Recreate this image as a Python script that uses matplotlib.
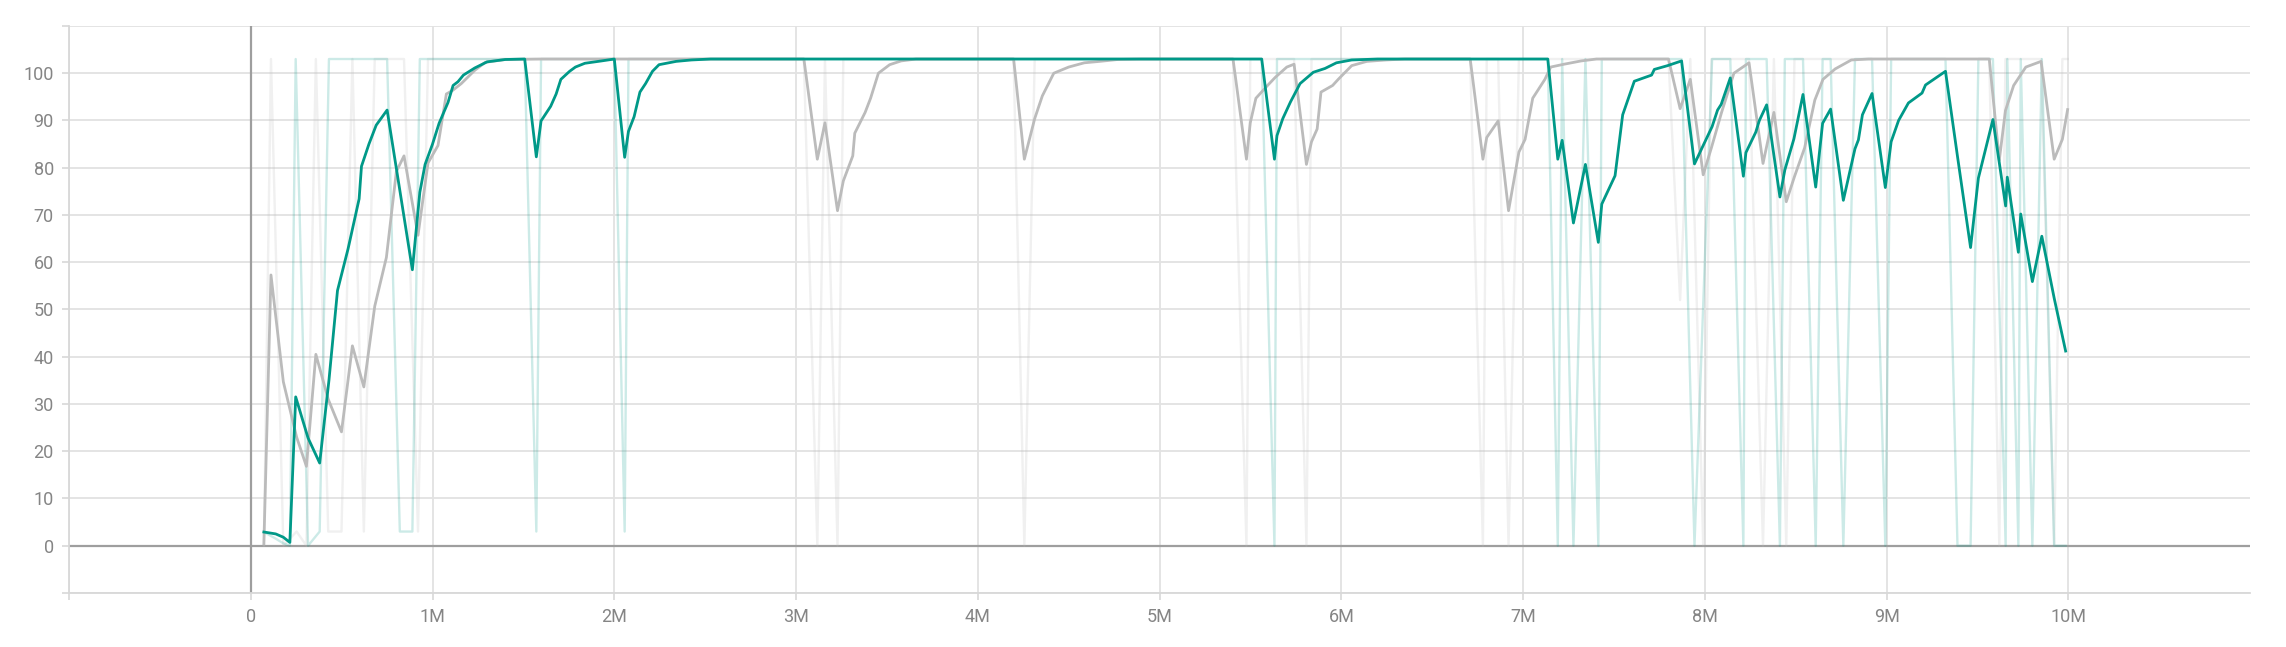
import numpy as np
import matplotlib
matplotlib.use("Agg")
import matplotlib.pyplot as plt

# steps in millions, smoothed value, raw value
teal_steps = [0.072, 0.137, 0.179, 0.215, 0.247, 0.315, 0.379, 0.43, 0.477, 0.535,
	0.596, 0.609, 0.65, 0.69, 0.75, 0.82, 0.889, 0.93, 0.959, 0.999,
	1.036, 1.085, 1.113, 1.14, 1.17, 1.232, 1.3, 1.4, 1.507, 1.571,
	1.597, 1.65, 1.68, 1.706, 1.754, 1.786, 1.838, 1.93, 2.0, 2.057,
	2.078, 2.109, 2.141, 2.172, 2.21, 2.246, 2.34, 2.424, 2.53, 3.5,
	4.5, 5.562, 5.632, 5.646, 5.678, 5.72, 5.773, 5.846, 5.91, 5.973,
	6.057, 6.2, 7.136, 7.191, 7.215, 7.277, 7.343, 7.414, 7.433, 7.506,
	7.548, 7.612, 7.707, 7.722, 7.795, 7.872, 7.943, 8.04, 8.07, 8.09,
	8.14, 8.212, 8.226, 8.28, 8.30, 8.34, 8.413, 8.44, 8.49, 8.54,
	8.61, 8.648, 8.692, 8.762, 8.826, 8.845, 8.867, 8.92, 8.993, 9.025,
	9.066, 9.12, 9.195, 9.214, 9.324, 9.39, 9.462, 9.505, 9.585, 9.655,
	9.664, 9.725, 9.738, 9.802, 9.854, 9.922, 9.985]
teal_smooth = [2.9, 2.5, 1.8, 0.7, 31.5, 22.8, 17.5, 35.0, 54.0, 62.8,
	73.4, 80.3, 85.0, 89.0, 92.2, 75.2, 58.4, 74.8, 80.7, 84.9,
	89.4, 93.8, 97.4, 98.2, 99.6, 101.1, 102.4, 102.9, 103.0, 82.3,
	89.9, 93.0, 95.6, 98.7, 100.4, 101.3, 102.1, 102.6, 103.0, 82.2,
	87.7, 90.8, 96.0, 97.8, 100.4, 101.8, 102.5, 102.8, 103.0, 103.0,
	103.0, 103.0, 81.8, 86.8, 90.4, 93.9, 97.8, 100.2, 101.0, 102.2,
	102.8, 103.0, 103.0, 81.8, 85.8, 68.3, 80.7, 64.2, 72.3, 78.3,
	91.2, 98.3, 99.6, 100.8, 101.6, 102.6, 80.8, 88.7, 92.2, 93.4,
	99.0, 78.2, 83.2, 87.5, 90.0, 93.3, 73.8, 79.5, 86.1, 95.5,
	75.9, 89.4, 92.4, 73.1, 84.0, 85.9, 91.2, 95.7, 75.8, 85.5,
	90.0, 93.7, 95.8, 97.5, 100.4, 82.4, 63.1, 77.8, 90.2, 71.9,
	78.0, 62.1, 70.2, 55.9, 65.5, 52.4, 41.2]
teal_raw = [2.9, 1.5, 0.5, 0, 103, 0, 3, 103, 103, 103,
	103, 103, 103, 103, 103, 3, 3, 103, 103, 103,
	103, 103, 103, 103, 103, 103, 103, 103, 103, 3,
	103, 103, 103, 103, 103, 103, 103, 103, 103, 3,
	103, 103, 103, 103, 103, 103, 103, 103, 103, 103,
	103, 103, 0, 103, 103, 103, 103, 103, 103, 103,
	103, 103, 103, 0, 103, 0, 103, 0, 103, 103,
	103, 103, 103, 103, 103, 103, 0, 103, 103, 103,
	103, 0, 103, 103, 103, 103, 0, 103, 103, 103,
	0, 103, 103, 0, 103, 103, 103, 103, 0, 103,
	103, 103, 103, 103, 103, 0, 0, 103, 103, 0,
	103, 0, 103, 0, 103, 0, 0]

gray_steps = [0.072, 0.111, 0.179, 0.252, 0.306, 0.358, 0.426, 0.499, 0.559, 0.622,
	0.682, 0.746, 0.801, 0.843, 0.92, 0.975, 1.03, 1.076, 1.112, 1.158,
	1.232, 1.29, 1.4, 1.6, 3.043, 3.117, 3.159, 3.228, 3.26, 3.312,
	3.323, 3.38, 3.41, 3.453, 3.515, 3.578, 3.66, 4.197, 4.256, 4.313,
	4.355, 4.418, 4.5, 4.586, 4.67, 4.77, 4.9, 5.404, 5.478, 5.499,
	5.53, 5.594, 5.636, 5.7, 5.74, 5.808, 5.836, 5.867, 5.888, 5.952,
	5.983, 6.057, 6.14, 6.246, 6.35, 6.709, 6.779, 6.8, 6.863, 6.92,
	6.977, 7.011, 7.053, 7.12, 7.152, 7.225, 7.32, 7.404, 7.8, 7.864,
	7.92, 7.991, 8.036, 8.092, 8.16, 8.243, 8.32, 8.38, 8.448, 8.493,
	8.549, 8.605, 8.65, 8.717, 8.806, 8.9, 9.565, 9.62, 9.654, 9.699,
	9.766, 9.85, 9.922, 9.967, 9.996]
gray_smooth = [0.4, 57.3, 34.7, 23.0, 16.8, 40.5, 31.0, 24.1, 42.3, 33.6,
	50.7, 61.0, 79.2, 82.5, 65.7, 81.0, 84.7, 95.6, 96.4, 97.8,
	100.6, 102.3, 102.9, 103.0, 103.0, 81.8, 89.5, 70.9, 77.2, 82.5,
	87.3, 91.7, 94.7, 100.0, 101.8, 102.6, 103.0, 103.0, 81.8, 90.4,
	95.2, 100.0, 101.3, 102.2, 102.5, 102.9, 103.0, 103.0, 81.8, 89.5,
	94.7, 97.4, 99.1, 101.3, 101.9, 80.7, 85.5, 88.2, 96.0, 97.4,
	98.7, 101.6, 102.5, 102.8, 103.0, 103.0, 81.8, 86.4, 89.9, 70.9,
	83.3, 86.0, 94.7, 98.7, 101.3, 101.9, 102.6, 103.0, 103.0, 92.5,
	98.7, 78.5, 84.2, 91.7, 100.0, 102.2, 80.9, 91.7, 72.8, 78.1,
	84.2, 94.3, 98.7, 100.9, 102.8, 103.0, 103.0, 81.6, 92.1, 97.4,
	101.3, 102.5, 81.8, 86.0, 92.3]
gray_raw = [0, 103, 0, 3, 0, 103, 3, 3, 103, 3,
	103, 103, 103, 103, 3, 103, 103, 103, 103, 103,
	103, 103, 103, 103, 103, 0, 103, 0, 103, 103,
	103, 103, 103, 103, 103, 103, 103, 103, 0, 103,
	103, 103, 103, 103, 103, 103, 103, 103, 0, 103,
	103, 103, 103, 103, 103, 0, 103, 103, 103, 103,
	103, 103, 103, 103, 103, 103, 0, 103, 103, 0,
	103, 103, 103, 103, 103, 103, 103, 103, 103, 52,
	103, 0, 103, 103, 103, 103, 0, 103, 0, 103,
	103, 103, 103, 103, 103, 103, 103, 0, 103, 103,
	103, 103, 0, 103, 103]

x_ticks = list(range(-1, 11))
x_labels = ['', '0', '1M', '2M', '3M', '4M', '5M', '6M', '7M', '8M', '9M', '10M']
y_ticks = list(range(-10, 111, 10))
y_labels = ['' if v < 0 or v > 100 else str(v) for v in y_ticks]

teal = '#009988'
gray = '#bbbbbb'

plt.rcParams['font.family'] = ['Roboto', 'DejaVu Sans']

fig = plt.figure(figsize=(22.86, 6.47), dpi=100)
ax = fig.add_axes([0.0302, 0.0835, 0.9541, 0.8764])

# faint raw lines under the smoothed ones
ax.plot(gray_steps, gray_raw, color=gray, alpha=0.22, lw=1.7, zorder=2)
ax.plot(teal_steps, teal_raw, color=teal, alpha=0.2, lw=1.7, zorder=2)
ax.plot(gray_steps, gray_smooth, color=gray, lw=2.0, zorder=3)
ax.plot(teal_steps, teal_smooth, color=teal, lw=2.0, zorder=4)

ax.axhline(0, color='#9e9e9e', lw=1.6, zorder=1)
ax.axvline(0, color='#9e9e9e', lw=1.6, zorder=1)

ax.set_xlim(-1, 11)
ax.set_ylim(-10, 110)
ax.set_xticks(x_ticks)
ax.set_xticklabels(x_labels)
ax.set_yticks(y_ticks)
ax.set_yticklabels(y_labels)
ax.grid(True, color='#e2e2e2', lw=1.3, zorder=0)
ax.set_axisbelow(True)

for side in ['top', 'right']:
	ax.spines[side].set_visible(False)
for side in ['left', 'bottom']:
	ax.spines[side].set_color('#d8d8d8')
	ax.spines[side].set_linewidth(1.3)

ax.tick_params(length=5, width=1.2, color='#d8d8d8', labelcolor='#858585', labelsize=13, pad=6)

fig.savefig('out.png', dpi=100, facecolor='white')
